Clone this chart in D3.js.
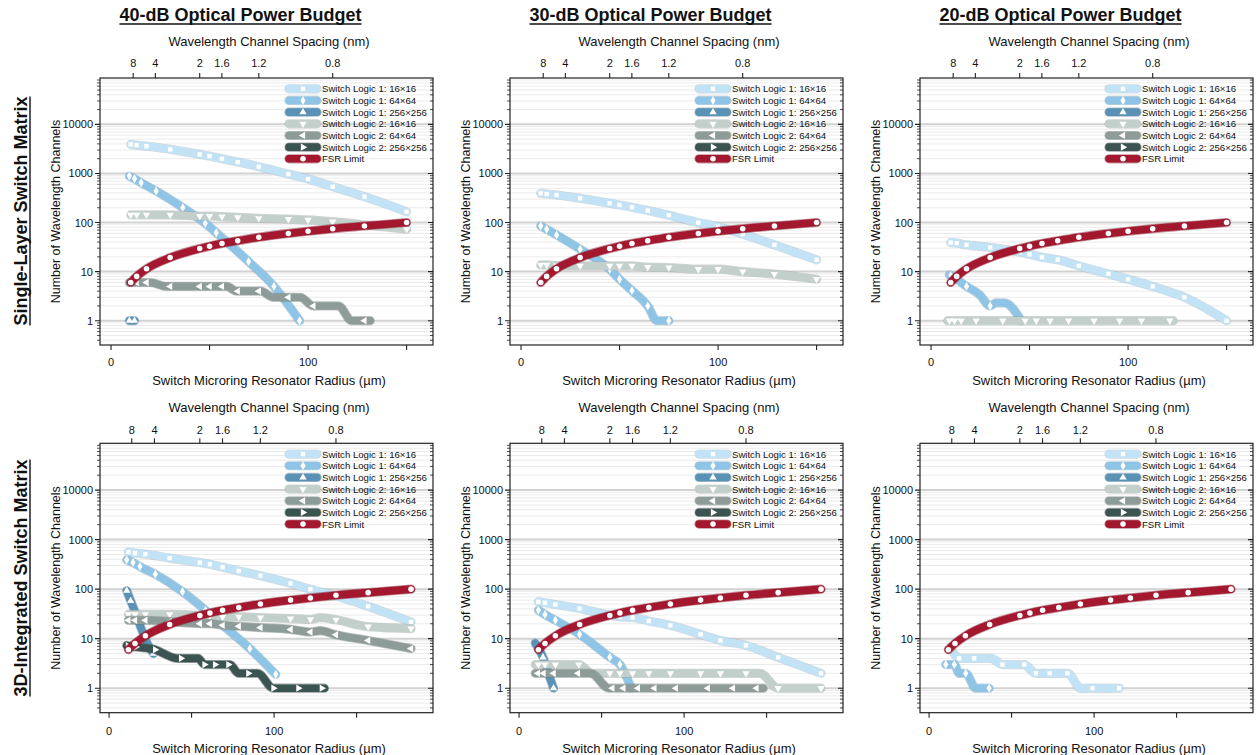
<!DOCTYPE html>
<html>
<head>
<meta charset="utf-8">
<script src="https://cdn.jsdelivr.net/npm/d3@7"></script>
<style>
body { margin: 0; background: #fff; }
text { font-family: "Liberation Sans", Arial, Helvetica, sans-serif; fill: #111; }
</style>
</head>
<body>
<svg id="chart" width="1257" height="755"></svg>
<script>
// ---- data ----
var budgetTitles = ['40-dB Optical Power Budget', '30-dB Optical Power Budget', '20-dB Optical Power Budget'];
var rowTitles = ['Single-Layer Switch Matrix', '3D-Integrated Switch Matrix'];
var seriesNames = ['Switch Logic 1: 16\u00d716', 'Switch Logic 1: 64\u00d764', 'Switch Logic 1: 256\u00d7256',
                   'Switch Logic 2: 16\u00d716', 'Switch Logic 2: 64\u00d764', 'Switch Logic 2: 256\u00d7256', 'FSR Limit'];
var spacingTicks = [8, 4, 2, 1.6, 1.2, 0.8];
var radiusTicks = [0, 50, 100, 150];
var radiusLabels = [0, 100];
var channelTicks = [1, 10, 100, 1000, 10000];

// marker radii (um) shared by most series
var radiusTopA = [10, 13, 18, 30, 45, 50, 56.3, 64.3, 75, 90, 100, 112.5, 128.6, 150];
var radiusBotA = [11.7, 15.7, 22, 36.7, 55, 61.1, 68.8, 78.6, 91.7, 110, 122, 137.5, 157, 183];
var fsrChannels = [6, 8, 11.4, 19.3, 29.5, 33, 37.3, 42.5, 50, 60, 66.5, 75, 85, 100];

// 40 dB, single layer   ([radius, channels] ; third item 0 = no marker)
var tl_s1_16 = [3900, 3775, 3605, 3090, 2445, 2260, 1990, 1705, 1370, 973, 770, 537, 336, 166];
var tl_s1_64 = [[9.3, 885], [11.9, 780], [15.3, 647], [22.9, 438], [36.4, 201], [47.8, 97], [53.4, 62], [69.8, 16], [82.7, 5], [95.7, 1]];
var tl_s1_256 = [[9.3, 1], [11.9, 1]];
var tl_s2_16 = [143, 143, 143, 143, 136, 136, 132, 127, 122, 117, 113, 104, 90, 73];
var tl_s2_64 = [[9.3, 6, 0], [10, 6], [13, 6], [18, 6], [20, 6, 0], [28, 5, 0], [30, 5], [45, 5], [50, 5], [56.3, 5], [58.7, 5, 0],
                [63.8, 4, 0], [64.3, 4], [75, 4], [76, 4, 0], [82.4, 3, 0], [90, 3], [96, 3, 0], [102.7, 2], [115.4, 2, 0],
                [122.2, 1, 0], [128.6, 1], [131.5, 1, 0]];

// 30 dB, single layer
var tm_s1_16 = [394, 381, 364, 312, 247, 228, 205, 175, 141, 99.5, 82.6, 57.8, 35, 17.4];
var tm_s1_64 = [[10, 85], [13, 73], [18, 56], [30, 28.6], [45, 11.2], [50, 7], [56.3, 4.1], [64.3, 2], [69, 1, 0], [75, 1]];
var tm_s2_16 = [13.7, 13.7, 13.3, 13.1, 13.1, 13.1, 13.1, 12.3, 12.1, 11.2, 11.2, 10, 8.9, 7.0];

// 20 dB, single layer
var tr_s1_16 = [39, 38, 35, 31, 25, 22.5, 19.7, 17.5, 13.1, 9, 7, 5, 3, 1];
var tr_s1_64 = [[9.3, 8.6, 0], [10, 8.4], [18, 5], [24.6, 3.4, 0], [30, 2], [33, 2.3, 0], [37.3, 2.3, 0], [45.8, 1, 0]];
var tr_s2_16 = [[8.5, 1, 0], [9.3, 1], [11.9, 1], [15.3, 1], [22.9, 1], [36.4, 1], [47.8, 1], [53.4, 1], [60.4, 1], [69.8, 1],
                [82.7, 1], [95.7, 1], [106.8, 1], [121.2, 1], [122.9, 1, 0]];

// 40 dB, 3D integrated
var bl_s1_16 = [560, 534, 510, 423, 344, 319, 277, 233, 187, 131, 100, 73, 45, 21.7];
var bl_s1_64 = [[10.7, 390], [14.5, 344], [18.7, 285], [28, 200], [44.5, 88.5], [58.4, 37.6], [65.3, 23.5], [85.3, 6.3], [101, 1.9]];
var bl_s1_256 = [[10.7, 93], [13.1, 58], [16.5, 30, 0], [19.8, 15, 0], [22.8, 8.5, 0], [26.9, 5]];
var bl_s2_16 = [[11.7, 31], [15.7, 31], [22, 31], [36.7, 31], [55, 29.7], [61.1, 29], [68.8, 27.5], [78.6, 27.5], [91.7, 26.7],
                [110, 25.5], [122, 24.4], [128, 26.5, 0], [137.5, 24], [157, 17.5], [183, 16]];
var bl_s2_64 = [[11.7, 23.5], [15.7, 23.5], [22, 23.5], [36.7, 22], [55, 20.1], [61.1, 20.1], [68.8, 18.6], [78.6, 17.8], [91.7, 16.7],
                [110, 15.4], [122, 13.6], [128, 14.5, 0], [137.5, 12], [157, 9.2], [183, 6.3]];
var bl_s2_256 = [[10.7, 7.3, 0], [11.4, 7.2], [16.2, 6.8], [26, 6.2, 0], [27.9, 6], [33, 5, 0], [41, 4, 0], [43.6, 4], [54, 4, 0],
                 [57.8, 3], [64.2, 3], [72.3, 3], [73.3, 3, 0], [78.4, 2, 0], [84.4, 2], [90, 2, 0], [99.6, 1], [114.7, 1],
                 [128.9, 1], [130.5, 1, 0]];

// 30 dB, 3D integrated
var bm_s1_16 = [55.5, 53, 49, 40.7, 29.8, 27.5, 26.7, 22.8, 18.6, 12.2, 9.2, 7.3, 4.2, 2.0];
var bm_s1_64 = [[11.7, 37.6], [15.7, 30.7], [22, 23.5], [36.7, 12.2], [55, 4.2], [61.1, 3], [68, 1]];
var bm_s1_256 = [[9.8, 8.1, 0], [14.5, 4.2], [18.7, 1.6, 0], [20.9, 1]];
var bm_s2_16 = [[9.8, 3, 0], [11.7, 3], [15.7, 3], [22, 3], [36.2, 3], [44.3, 2, 0], [55, 2], [61.1, 2], [68.8, 2], [78.6, 2],
                [91.7, 2], [110, 2], [122, 2], [137.5, 2], [146, 2, 0], [157, 1], [183, 1]];
var bm_s2_64 = [[9.8, 2, 0], [11.4, 2], [14.8, 2], [20.9, 2], [35.7, 2], [43.4, 2, 0], [54.5, 1, 0], [56.5, 1], [63.2, 1], [72, 1],
                [82, 1], [95, 1], [114.4, 1], [129.6, 1], [143.9, 1], [148, 1, 0]];

// 20 dB, 3D integrated
var br_s1_16 = [[15.2, 5, 0], [18.2, 4], [27.3, 4], [37.4, 4, 0], [44.5, 3], [57.6, 3], [64.7, 2], [73.1, 2], [83.9, 2],
                [91.9, 1, 0], [99, 1], [115.2, 1]];
var br_s1_64 = [[10.1, 3], [15.3, 3], [18.2, 2, 0], [22.2, 2], [28.3, 1, 0], [36.4, 1]];

// ---- styling ----
var seriesColors = ['#c2e3f6', '#8ec4e6', '#5a92b6', '#c3cfcb', '#8d9c98', '#3c5451', '#a3182f'];
var seriesMarkers = ['square', 'diamond', 'up', 'down', 'left', 'right', 'circle'];

var boxW = 333;
var colX = [100, 510, 920];
var rows = [
    {top: 78, bottom: 345, xDomain: [-5.6, 163.4], spacingK: 90, topTitleY: 46, topTickY: 66.5, botTickY: 366, botTitleY: 385, labelY: 211},
    {top: 443.3, bottom: 712.7, xDomain: [-5.5, 196.3], spacingK: 110, topTitleY: 411.5, topTickY: 433.5, botTickY: 735, botTitleY: 752.5, labelY: 578}
];

function onGrid(radii, vals){
    return vals.map(function(v, i){ return [radii[i], v]; });
}

var panels = [
    {row: 0, col: 0, series: [onGrid(radiusTopA, tl_s1_16), tl_s1_64, tl_s1_256, onGrid(radiusTopA, tl_s2_16), tl_s2_64, null, onGrid(radiusTopA, fsrChannels)]},
    {row: 0, col: 1, series: [onGrid(radiusTopA, tm_s1_16), tm_s1_64, null, onGrid(radiusTopA, tm_s2_16), null, null, onGrid(radiusTopA, fsrChannels)]},
    {row: 0, col: 2, series: [onGrid(radiusTopA, tr_s1_16), tr_s1_64, null, tr_s2_16, null, null, onGrid(radiusTopA, fsrChannels)]},
    {row: 1, col: 0, series: [onGrid(radiusBotA, bl_s1_16), bl_s1_64, bl_s1_256, bl_s2_16, bl_s2_64, bl_s2_256, onGrid(radiusBotA, fsrChannels)]},
    {row: 1, col: 1, series: [onGrid(radiusBotA, bm_s1_16), bm_s1_64, bm_s1_256, bm_s2_16, bm_s2_64, null, onGrid(radiusBotA, fsrChannels)]},
    {row: 1, col: 2, series: [br_s1_16, br_s1_64, null, null, null, null, onGrid(radiusBotA, fsrChannels)]}
];

var svg = d3.select('#chart');

// marker glyph centred on x,y
function drawMarker(g, kind, x, y){
    var sym, rot = 0, size = 22;
    if (kind == 'square'){ sym = d3.symbolSquare; size = 19; }
    else if (kind == 'diamond'){ sym = d3.symbolDiamond; size = 23; }
    else if (kind == 'circle'){ sym = d3.symbolCircle; size = 24; }
    else {
        sym = d3.symbolTriangle; size = 23;
        if (kind == 'down') rot = 180;
        if (kind == 'left') rot = -90;
        if (kind == 'right') rot = 90;
    }
    g.append('path')
        .attr('d', d3.symbol().type(sym).size(size)())
        .attr('transform', 'translate(' + x + ',' + y + ') rotate(' + rot + ')')
        .attr('fill', '#fff');
}

function thickLine(g, pts, color, line){
    g.append('path')
        .datum(pts)
        .attr('d', line)
        .attr('fill', 'none')
        .attr('stroke', d3.color(color).darker(0.7))
        .attr('stroke-opacity', 0.45)
        .attr('stroke-width', 9.2)
        .attr('stroke-linecap', 'round')
        .attr('stroke-linejoin', 'round');
    g.append('path')
        .datum(pts)
        .attr('d', line)
        .attr('fill', 'none')
        .attr('stroke', color)
        .attr('stroke-width', 7.6)
        .attr('stroke-linecap', 'round')
        .attr('stroke-linejoin', 'round');
}

function underlined(g, x, y, txt, anchor){
    var t = g.append('text')
        .attr('x', x).attr('y', y)
        .attr('text-anchor', anchor)
        .style('font-size', '18px')
        .style('font-weight', 'bold')
        .text(txt);
    var w = t.node().getComputedTextLength();
    var x0 = anchor == 'middle' ? x - w / 2 : x;
    g.append('line')
        .attr('x1', x0).attr('x2', x0 + w)
        .attr('y1', y + 3).attr('y2', y + 3)
        .attr('stroke', '#111').attr('stroke-width', 1.4);
    return t;
}

function drawPanel(p){
    var r = rows[p.row];
    var left = colX[p.col], right = left + boxW;

    var xScale = d3.scaleLinear().domain(r.xDomain).range([left, right]);
    var yScale = d3.scaleLog().domain([0.32, 88000]).range([r.bottom, r.top]);

    var g = svg.append('g').attr('class', 'panel');

    // minor grid lines
    var minors = [];
    for (var k = -1; k <= 4; k++){
        for (var m = 2; m <= 9; m++){
            var v = m * Math.pow(10, k);
            if (v > 0.32 && v < 88000) minors.push(v);
        }
    }
    g.selectAll('.minor').data(minors).enter().append('line')
        .attr('x1', left).attr('x2', right)
        .attr('y1', function(d){ return yScale(d); })
        .attr('y2', function(d){ return yScale(d); })
        .attr('stroke', '#ebebeb').attr('stroke-width', 1);
    g.selectAll('.major').data(channelTicks).enter().append('line')
        .attr('x1', left).attr('x2', right)
        .attr('y1', function(d){ return yScale(d); })
        .attr('y2', function(d){ return yScale(d); })
        .attr('stroke', '#d2d2d2').attr('stroke-width', 2);

    // series, legend order, FSR on top
    var line = d3.line()
        .curve(d3.curveMonotoneX)
        .x(function(d){ return xScale(d[0]); })
        .y(function(d){ return yScale(d[1]); });
    p.series.forEach(function(pts, i){
        if (!pts) return;
        var sg = g.append('g').attr('class', 'series' + i);
        thickLine(sg, pts, seriesColors[i], line);
        pts.forEach(function(d){
            if (d[2] === 0) return;
            drawMarker(sg, seriesMarkers[i], xScale(d[0]), yScale(d[1]));
        });
    });

    // frame
    g.append('rect')
        .attr('x', left).attr('y', r.top)
        .attr('width', boxW).attr('height', r.bottom - r.top)
        .attr('fill', 'none').attr('stroke', '#222').attr('stroke-width', 1.2);

    // y axis ticks left and right
    g.selectAll('.ytm').data(minors).enter().append('path')
        .attr('d', function(d){
            var y = yScale(d);
            return 'M' + (left - 3) + ',' + y + 'H' + left + 'M' + right + ',' + y + 'H' + (right - 3);
        })
        .attr('stroke', '#222').attr('stroke-width', 0.8);
    g.selectAll('.ytM').data(channelTicks).enter().append('path')
        .attr('d', function(d){
            var y = yScale(d);
            return 'M' + (left - 5) + ',' + y + 'H' + left + 'M' + right + ',' + y + 'H' + (right - 5);
        })
        .attr('stroke', '#222').attr('stroke-width', 1.1);
    g.selectAll('.ylab').data(channelTicks).enter().append('text')
        .attr('x', left - 7)
        .attr('y', function(d){ return yScale(d) + 4; })
        .attr('text-anchor', 'end')
        .style('font-size', '11px')
        .text(function(d){ return d; });
    g.append('text')
        .attr('transform', 'translate(' + (left - 40) + ',' + ((r.top + r.bottom) / 2) + ') rotate(-90)')
        .attr('text-anchor', 'middle')
        .style('font-size', '12.5px')
        .text('Number of Wavelength Channels');

    // bottom axis (radius)
    g.selectAll('.xt').data(radiusTicks).enter().append('line')
        .attr('x1', function(d){ return xScale(d); })
        .attr('x2', function(d){ return xScale(d); })
        .attr('y1', r.bottom).attr('y2', r.bottom + 5)
        .attr('stroke', '#222').attr('stroke-width', 1.1);
    g.selectAll('.xl').data(radiusLabels).enter().append('text')
        .attr('x', function(d){ return xScale(d); })
        .attr('y', r.botTickY)
        .attr('text-anchor', 'middle')
        .style('font-size', '11px')
        .text(function(d){ return d; });
    g.append('text')
        .attr('x', left + 169).attr('y', r.botTitleY)
        .attr('text-anchor', 'middle')
        .style('font-size', '13px')
        .text('Switch Microring Resonator Radius (\u00b5m)');

    // top axis (channel spacing -> radius)
    var spacingX = function(s){ return xScale(r.spacingK / s); };
    g.selectAll('.st').data(spacingTicks).enter().append('line')
        .attr('x1', spacingX).attr('x2', spacingX)
        .attr('y1', r.top).attr('y2', r.top - 5)
        .attr('stroke', '#222').attr('stroke-width', 1.1);
    g.selectAll('.sl').data(spacingTicks).enter().append('text')
        .attr('x', spacingX)
        .attr('y', r.topTickY)
        .attr('text-anchor', 'middle')
        .style('font-size', '11px')
        .text(function(d){ return d; });
    g.append('text')
        .attr('x', left + 169).attr('y', r.topTitleY)
        .attr('text-anchor', 'middle')
        .style('font-size', '13px')
        .text('Wavelength Channel Spacing (nm)');

    // legend
    var lx = left + 189, ly = r.top + 10.8;
    seriesNames.forEach(function(name, i){
        var y = ly + i * 11.67;
        var lg = g.append('g').attr('class', 'legend');
        var sw = d3.line().x(function(d){ return left + d; }).y(y);
        thickLine(lg, [189, 217], seriesColors[i], sw);
        drawMarker(lg, seriesMarkers[i], lx + 14, y);
        lg.append('text')
            .attr('x', lx + 33).attr('y', y + 3.4)
            .style('font-size', '9.6px')
            .text(name);
    });
}

panels.forEach(drawPanel);

// column and row titles
budgetTitles.forEach(function(t, i){
    underlined(svg, colX[i] + 140.5, 21, t, 'middle');
});
rowTitles.forEach(function(t, i){
    var g = svg.append('g').attr('transform', 'translate(27,' + rows[i].labelY + ') rotate(-90)');
    underlined(g, 0, 0, t, 'middle');
});
</script>
</body>
</html>
